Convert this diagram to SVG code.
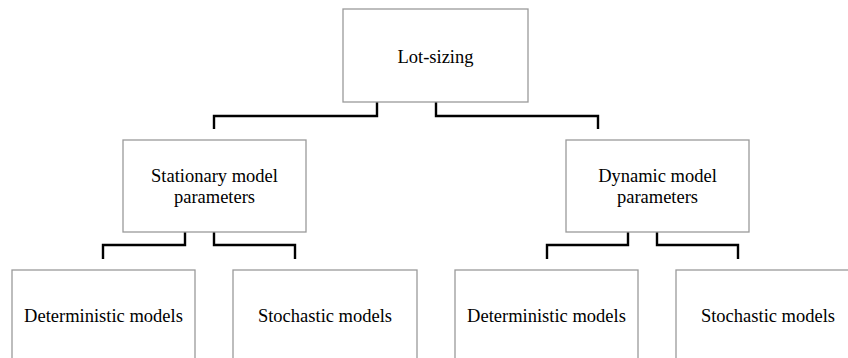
<svg xmlns="http://www.w3.org/2000/svg" width="848" height="358" viewBox="0 0 848 358">
<style>
.box{fill:#fff;stroke:#9a9a9a;stroke-width:1.3}
.lbl{font-family:"Liberation Serif","Times New Roman",serif;font-size:18.5px;fill:#000;text-anchor:middle}
.con{fill:none;stroke:#000;stroke-width:2.4}
</style>
<rect width="848" height="358" fill="#fff"/>
<g id="connectors">
<path class="con" d="M377,102 V116 H214 V129"/>
<path class="con" d="M436,102 V116 H598 V129"/>
<path class="con" d="M185,232 V245 H103 V259"/>
<path class="con" d="M214,232 V245 H295 V259"/>
<path class="con" d="M628,232 V245 H547 V259"/>
<path class="con" d="M657,232 V245 H738 V259"/>
</g>
<g id="lot-sizing">
<rect class="box" x="343" y="9" width="185" height="93"/>
<text class="lbl" x="435.5" y="63">Lot-sizing</text>
</g>
<g id="stationary">
<rect class="box" x="123" y="140" width="183" height="92"/>
<text class="lbl" x="214.5" y="181.5">Stationary model</text>
<text class="lbl" x="214.5" y="203">parameters</text>
</g>
<g id="dynamic">
<rect class="box" x="566" y="140" width="183" height="92"/>
<text class="lbl" x="657.5" y="181.5">Dynamic model</text>
<text class="lbl" x="657.5" y="203">parameters</text>
</g>
<g id="stat-deterministic">
<rect class="box" x="12" y="270" width="183" height="100"/>
<text class="lbl" x="103.5" y="322">Deterministic models</text>
</g>
<g id="stat-stochastic">
<rect class="box" x="233" y="270" width="184" height="100"/>
<text class="lbl" x="325" y="322">Stochastic models</text>
</g>
<g id="dyn-deterministic">
<rect class="box" x="455" y="270" width="183" height="100"/>
<text class="lbl" x="546.5" y="322">Deterministic models</text>
</g>
<g id="dyn-stochastic">
<rect class="box" x="676" y="270" width="184" height="100"/>
<text class="lbl" x="768" y="322">Stochastic models</text>
</g>
</svg>
